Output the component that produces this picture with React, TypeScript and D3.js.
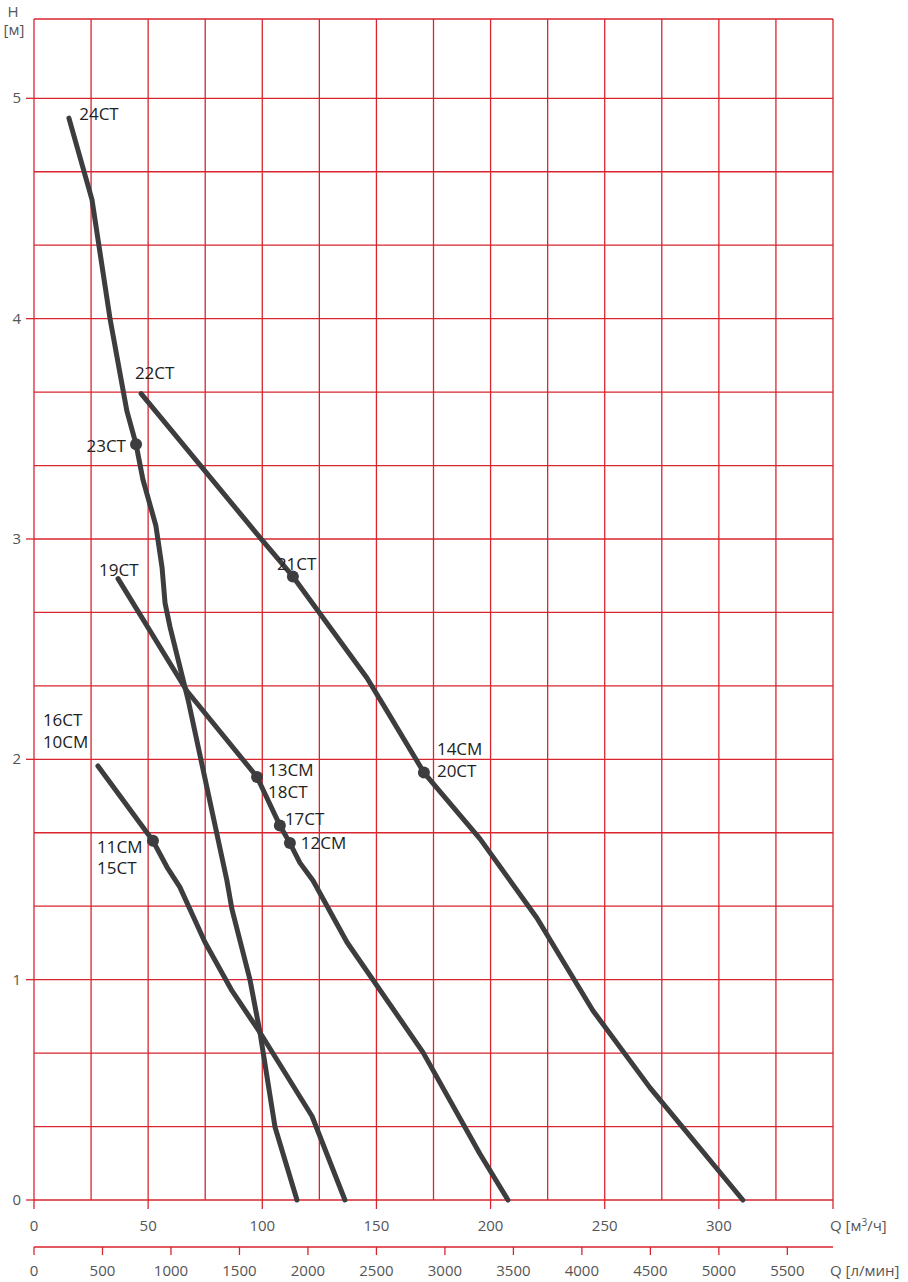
import React from 'react';
import * as d3 from 'd3';

type Pt = [number, number];

// pump curves, Q [m3/h] vs H [m]
const curve24CT: Pt[] = [
  [15.3, 4.91], [25.4, 4.54], [33.3, 4.0], [40.7, 3.58], [44.7, 3.43], [47.7, 3.27],
  [53.4, 3.06], [56.1, 2.87], [57.4, 2.71], [59.6, 2.6], [67.5, 2.27], [84.5, 1.45],
  [86.7, 1.32], [94.6, 1.0], [99.0, 0.76], [105.6, 0.33], [115.2, 0],
];
const curve22CT: Pt[] = [
  [46.9, 3.66], [100.3, 2.99], [113.4, 2.83], [145.8, 2.37], [154.6, 2.22], [170.8, 1.94],
  [195.3, 1.64], [220.3, 1.28], [244.8, 0.86], [269.8, 0.51], [310.5, 0],
];
const curve19CT: Pt[] = [
  [36.8, 2.82], [67.0, 2.31], [97.7, 1.92], [107.7, 1.7], [112.1, 1.62], [116.5, 1.53],
  [122.2, 1.45], [137.1, 1.17], [170.4, 0.67], [195.3, 0.21], [207.6, 0],
];
const curve16CT: Pt[] = [
  [28.0, 1.97], [52.1, 1.63], [58.3, 1.51], [63.9, 1.42], [74.9, 1.17], [86.7, 0.95],
  [99.0, 0.76], [121.8, 0.38], [136.2, 0],
];
const curves = [curve24CT, curve22CT, curve19CT, curve16CT];

const markers: Pt[] = [
  [44.7, 3.43], [113.4, 2.83], [170.8, 1.94], [97.7, 1.92], [107.7, 1.7], [112.1, 1.62], [52.1, 1.63],
];

// label text and its anchor point (Q, H)
const labelNames = ['24CT', '22CT', '23CT', '21CT', '19CT', '16CT', '10CM', '11CM', '15CT', '13CM', '18CT', '17CT', '12CM', '14CM', '20CT'];
const labelPos: Pt[] = [
  [19.8, 4.9], [44.2, 3.725], [40.3, 3.395], [106.4, 2.86], [28.5, 2.83], [3.9, 2.15], [3.9, 2.05],
  [27.6, 1.575], [27.6, 1.48], [102.5, 1.925], [102.5, 1.825], [109.9, 1.7], [116.9, 1.592], [176.5, 2.02], [176.5, 1.92],
];

const qTicks = [0, 50, 100, 150, 200, 250, 300];
const lTicks = [0, 500, 1000, 1500, 2000, 2500, 3000, 3500, 4000, 4500, 5000, 5500];
const hTicks = [0, 1, 2, 3, 4, 5];

const RED = '#d9252f';
const GREY = '#555';
const INK = '#3d3d3f';
const FONT = '"Open Sans", "Noto Sans", sans-serif';

export default function App() {
  const x = d3.scaleLinear().domain([0, 350]).range([34, 833]);
  const y = d3.scaleLinear().domain([0, 5.36]).range([1200, 19]);
  const xL = d3.scaleLinear().domain([0, 350 * 1000 / 60]).range([34, 833]);
  const line = d3.line<Pt>().x((d) => x(d[0])).y((d) => y(d[1]));

  const vGrid = d3.range(0, 351, 25);
  const hGrid = d3.range(0, 16).map((k) => k / 3);

  return (
    <svg width={908} height={1282} style={{ position: 'absolute', left: 0, top: 0, fontFamily: FONT }}>
      <rect width={908} height={1282} fill="#fff" />
      <g stroke={RED} strokeWidth={1.3}>
        {vGrid.map((v) => (
          <line key={'v' + v} x1={x(v)} x2={x(v)} y1={y(5.36)} y2={y(0)} />
        ))}
        {hGrid.map((v, i) => (
          <line key={'h' + i} x1={x(0)} x2={x(350)} y1={y(v)} y2={y(v)} />
        ))}
        <line x1={x(0)} x2={x(350)} y1={y(5.36)} y2={y(5.36)} />
        {hTicks.map((v) => (
          <line key={'ht' + v} x1={26} x2={x(0)} y1={y(v)} y2={y(v)} />
        ))}
        {d3.range(0, 351, 50).map((v) => (
          <line key={'qt' + v} x1={x(v)} x2={x(v)} y1={1200} y2={1209} />
        ))}
        <line x1={x(0)} x2={x(350)} y1={1247} y2={1247} />
        {lTicks.map((v) => (
          <line key={'lt' + v} x1={xL(v)} x2={xL(v)} y1={1247} y2={1255} />
        ))}
      </g>

      <g fill={GREY} fontSize={15}>
        {hTicks.map((v) => (
          <text key={'hl' + v} x={21} y={y(v) + 5} textAnchor="end">{v}</text>
        ))}
        {qTicks.map((v) => (
          <text key={'ql' + v} x={x(v)} y={1231} textAnchor="middle">{v}</text>
        ))}
        {lTicks.map((v) => (
          <text key={'ll' + v} x={xL(v)} y={1276} textAnchor="middle">{v}</text>
        ))}
        <text x={13} y={17} textAnchor="middle">H</text>
        <text x={14} y={35} textAnchor="middle">[м]</text>
        <text x={830} y={1231}>Q [м<tspan dy={-5} fontSize={10}>3</tspan><tspan dy={5}>/ч]</tspan></text>
        <text x={830} y={1276}>Q [л/мин]</text>
      </g>

      <g fill="none" stroke={INK} strokeWidth={5} strokeLinejoin="round" strokeLinecap="round">
        {curves.map((c, i) => (
          <path key={'c' + i} d={line(c) ?? ''} />
        ))}
      </g>
      <g fill={INK}>
        {markers.map((m, i) => (
          <circle key={'m' + i} cx={x(m[0])} cy={y(m[1])} r={6} />
        ))}
      </g>

      <g fill="#222" fontSize={17}>
        {labelNames.map((t, i) => (
          <text
            key={t}
            x={x(labelPos[i][0])}
            y={y(labelPos[i][1])}
            textAnchor={t === '23CT' ? 'end' : 'start'}
          >
            {t}
          </text>
        ))}
      </g>
    </svg>
  );
}
